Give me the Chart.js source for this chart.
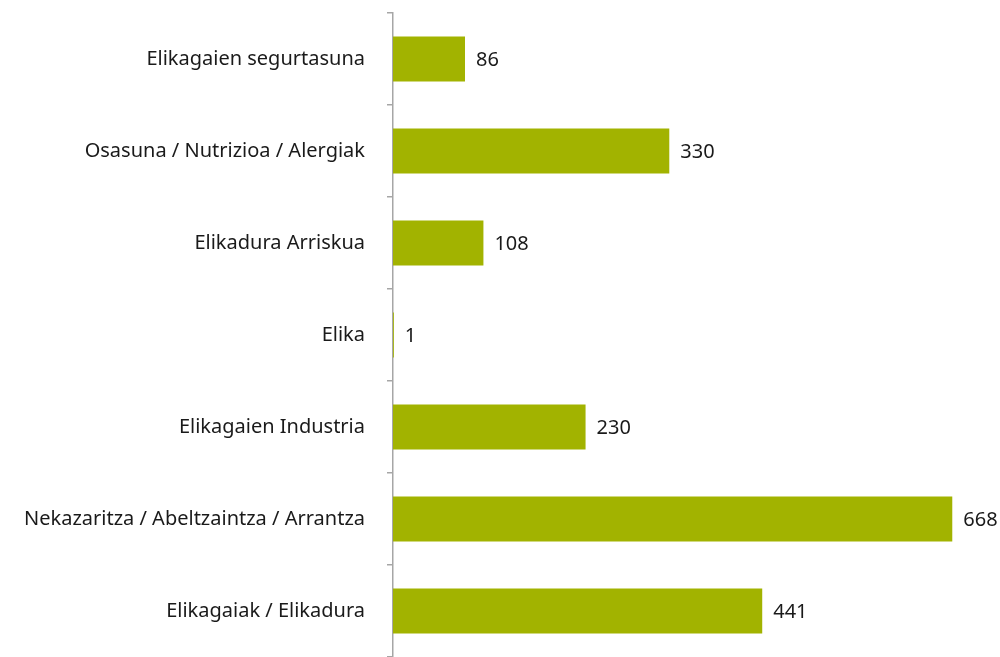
<!DOCTYPE html>
<html>
<head>
<meta charset="utf-8">
<script src="https://cdn.jsdelivr.net/npm/chart.js@4"></script>
<style>
html,body{margin:0;padding:0;background:#fff}
#wrap{width:1000px;height:657px}
</style>
</head>
<body>
<div id="wrap"><canvas id="chart"></canvas></div>
<script>
const categories=["Elikagaien segurtasuna","Osasuna / Nutrizioa / Alergiak","Elikadura Arriskua","Elika","Elikagaien Industria","Nekazaritza / Abeltzaintza / Arrantza","Elikagaiak / Elikadura"]
const values=[86,330,108,1,230,668,441]

const FONT="'Noto Sans'"

// value labels at the end of each bar
const barLabels={
id:"barLabels",
afterDatasetsDraw(chart){
const ctx=chart.ctx
const meta=chart.getDatasetMeta(0)
ctx.save()
ctx.font="20px "+FONT
ctx.fillStyle="#1a1a1a"
ctx.textBaseline="middle"
meta.data.forEach((bar,i)=>{
ctx.fillText(values[i],bar.x+11,bar.y+1)
})
ctx.restore()
}
}

new Chart(document.getElementById("chart"),{
type:"bar",
data:{
labels:categories,
datasets:[{
data:values,
backgroundColor:"#a2b300",
barPercentage:0.49,
categoryPercentage:1
}]
},
options:{
indexAxis:"y",
responsive:true,
maintainAspectRatio:false,
animation:false,
layout:{padding:{top:13,right:0,bottom:0,left:0}},
plugins:{legend:{display:false},tooltip:{enabled:false}},
scales:{
x:{display:false,min:0,max:725},
y:{
afterFit(s){s.width=393;s.paddingTop=0;s.paddingBottom=0},
border:{display:true,color:"#a6a6a6",width:1.5},
grid:{display:true,drawOnChartArea:false,drawTicks:true,tickLength:6,color:"#a6a6a6",lineWidth:1.5,offset:true},
ticks:{padding:22,color:"#1a1a1a",font:{family:FONT,size:20}}
}
}
},
plugins:[barLabels]
})
</script>
</body>
</html>
